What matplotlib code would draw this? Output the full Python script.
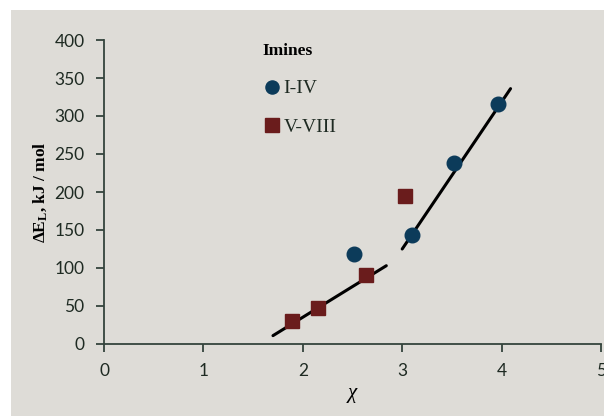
# Energie d'interaction en fonction de chi (imines)

import matplotlib
matplotlib.use('Agg')

import matplotlib.pyplot as plt
from matplotlib.patches import Rectangle

# Donnees
chi_I_IV = [2.52, 3.10, 3.52, 3.96]
dE_I_IV = [119, 143, 238, 316]

chi_V_VIII = [1.89, 2.15, 2.64, 3.03]
dE_V_VIII = [30, 47, 91, 195]

# Droites de tendance (extremites)
fit_low_x = [1.70, 2.84]
fit_low_y = [11, 103]
fit_high_x = [3.00, 4.09]
fit_high_y = [125, 336]

xticks = [0, 1, 2, 3, 4, 5]
yticks = [0, 50, 100, 150, 200, 250, 300, 350, 400]

plt.rcParams['mathtext.fontset'] = 'custom'
plt.rcParams['mathtext.rm'] = 'Liberation Serif'
plt.rcParams['mathtext.bf'] = 'Liberation Serif:bold'
plt.rcParams['mathtext.it'] = 'Liberation Serif:italic'

axis_col = '#34443c'

fig = plt.figure(figsize=(6.04, 4.16), dpi=100)
fig.patch.set_facecolor('white')
fig.patches.append(Rectangle((11 / 604, 0), 1, 1 - 10 / 416, transform=fig.transFigure,
                             facecolor='#dedcd7', edgecolor='none', zorder=-10))

ax = fig.add_axes([104 / 604, 72 / 416, 497 / 604, 304 / 416])
ax.set_facecolor('none')

ax.plot(fit_low_x, fit_low_y, color='black', lw=2.2, solid_capstyle='round', zorder=2)
ax.plot(fit_high_x, fit_high_y, color='black', lw=2.2, solid_capstyle='round', zorder=2)

ax.plot(chi_I_IV, dE_I_IV, 'o', color='#0c3b5a', ms=10.5, label='I-IV', zorder=3)
ax.plot(chi_V_VIII, dE_V_VIII, 's', color='#6a1c1c', ms=10.5, label='V-VIII', zorder=3)

ax.set_xlim(0, 5)
ax.set_ylim(0, 400)
ax.set_xticks(xticks)
ax.set_yticks(yticks)

for side in ['top', 'right']:
    ax.spines[side].set_visible(False)
for side in ['left', 'bottom']:
    ax.spines[side].set_color(axis_col)
    ax.spines[side].set_linewidth(1.3)

ax.tick_params(direction='out', length=6, width=1.3, color=axis_col,
               labelsize=12.5, labelcolor='#1e2a22', pad=8)
for lab in ax.get_xticklabels() + ax.get_yticklabels():
    lab.set_family('Lato')

ax.set_xlabel(r'$\chi$', fontsize=15, labelpad=4)
ax.set_ylabel(r'$\mathbf{\Delta E_L}$, kJ / mol', fontsize=12.5, fontweight='bold',
              family='Liberation Serif', labelpad=4)

leg = ax.legend(loc='upper left', bbox_to_anchor=(0.318, 0.99), frameon=False,
                title='Imines', prop={'family': 'Liberation Serif', 'size': 14},
                handletextpad=0.1, handlelength=1.0, labelspacing=1.05,
                borderpad=0, borderaxespad=0, markerscale=0.9)
leg.get_title().set_fontweight('bold')
leg.get_title().set_family('Liberation Serif')
leg.get_title().set_fontsize(12.5)
leg._legend_box.align = 'left'
leg._legend_box.sep = 15
for t in leg.get_texts():
    t.set_color('#1e2a22')

plt.savefig('out.png', dpi=100)
